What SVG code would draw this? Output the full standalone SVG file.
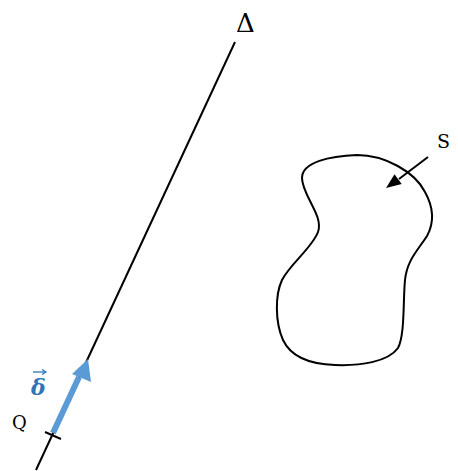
<svg xmlns="http://www.w3.org/2000/svg" width="458" height="471" viewBox="0 0 458 471">
<defs>
<style>
.ln{stroke:#000;stroke-width:2;fill:none}
.t{font-family:"DejaVu Serif","Liberation Serif",serif;fill:#000}
</style>
</defs>
<rect width="458" height="471" fill="#fff"/>
<g id="connectors">
<line id="axis" class="ln" x1="36" y1="470" x2="235" y2="42"/>
<line id="tick" x1="45" y1="432" x2="61" y2="439" stroke="#000" stroke-width="2"/>
<line id="s-arrow" class="ln" x1="428" y1="157" x2="399" y2="179"/>
<path d="M386,188 L401.7,183.9 L394.5,174.3 Z" fill="#000"/>
<path id="delta-vec" d="M53,433 L79,377" stroke="#5B9BD5" stroke-width="6" fill="none"/>
<path d="M72,374 L88,359 L91,382 Z" fill="#5B9BD5"/>
</g>
<g id="surface">
<path class="ln" d="M357,155 C385,155 415,172 425,192 C435,210 433,225 427,236 C418,250 407,260 405,280 C403,300 405,335 398,348 C388,362 360,366 335,365 C305,364 290,355 283,340 C275,322 275,295 282,280 C290,264 312,248 318,232 C324,216 302,195 302,178 C302,162 330,156 357,155 Z"/>
</g>
<g id="labels">
<text class="t" x="236" y="32" font-size="26">Δ</text>
<text class="t" x="437" y="148" font-size="19">S</text>
<text class="t" x="12" y="429" font-size="18">Q</text>
<g id="delta-label">
<text x="31" y="395" font-family="DejaVu Serif, serif" font-size="22" font-weight="bold" font-style="italic" fill="#2E75B6">δ</text>
<path d="M33,372 L45,372" stroke="#2E75B6" stroke-width="1.3"/>
<path d="M42,369.5 L46,372 L42,374.5" stroke="#2E75B6" stroke-width="1.3" fill="none"/>
</g>
</g>
</svg>
